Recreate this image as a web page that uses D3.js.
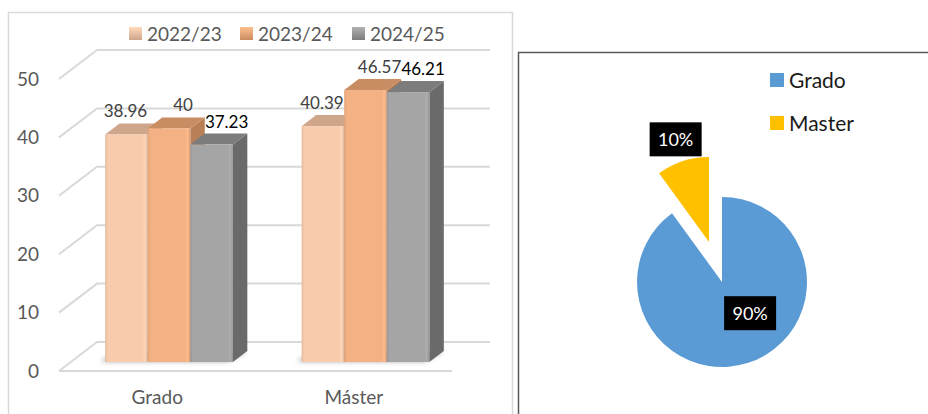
<!DOCTYPE html>
<html>
<head>
<meta charset="utf-8">
<script src="https://cdn.jsdelivr.net/npm/d3@7"></script>
<style>
  html, body { margin: 0; padding: 0; background: #fff; }
  svg { display: block; font-family: Lato, "Noto Sans", sans-serif; }
</style>
</head>
<body>
<svg id="chart" width="928" height="414"></svg>
<script>
// Average scores by study level and academic year
const categories = ["Grado", "Máster"];
const seriesNames = ["2022/23", "2023/24", "2024/25"];
const values2022 = [38.96, 40.39];
const values2023 = [40, 46.57];
const values2024 = [37.23, 46.21];
const yTicks = [0, 10, 20, 30, 40, 50];

// Share of students by level
const pieLabels = ["Grado", "Master"];
const pieValues = [90, 10];

const seriesValues = [values2022, values2023, values2024];

const svg = d3.select("#chart");
const defs = svg.append("defs");

// ---------- left panel: 3D clustered columns ----------
const frontColors = ["#F8CBAD", "#F4B183", "#A5A5A5"];
const topColors   = ["#CFA68B", "#C98D63", "#7C7C7C"];
const sideColors  = ["#C49C82", "#B98057", "#6A6A6A"];
const labelColors = ["#404040", "#404040", "#000000"];
const labelNudge  = [-1, 14, 15];

// oblique depth vector (full depth of the plot box)
const depthDX = 38, depthDY = -29;
const d0 = 0.31, d1 = 0.69;   // bar depth range inside the box

const x0 = d3.scaleBand().domain(categories).range([59, 452])
  .paddingInner(0.35).paddingOuter(0.175);
const x1 = d3.scaleBand().domain(seriesNames).range([0, x0.bandwidth()]);
const y = d3.scaleLinear().domain([0, 50]).range([371, 79]);

const proj = (x, v, d) => [x + d * depthDX, y(v) + d * depthDY];

// panel frame
svg.append("rect").attr("x", 8.5).attr("y", 12.5).attr("width", 504).attr("height", 420)
  .attr("fill", "none").attr("stroke", "#D9D9D9").attr("stroke-width", 1.5);

// walls / gridlines
const grid = svg.append("g").attr("stroke", "#D9D9D9").attr("stroke-width", 2).attr("fill", "none");
const xLeft = x0.range()[0], xRight = x0.range()[1];
yTicks.forEach(t => {
  const a = proj(xLeft, t, 0), b = proj(xLeft, t, 1), c = proj(xRight, t, 1);
  grid.append("path").attr("d", d3.line()([a, b, c]));
});
// front floor edge
grid.append("path").attr("d", d3.line()([proj(xLeft, 0, 0), proj(xRight, 0, 0)]));

// axis tick labels
svg.append("g").selectAll("text").data(yTicks).join("text")
  .attr("x", 39).attr("y", d => y(d)).attr("dy", "0.35em")
  .attr("text-anchor", "end").attr("font-size", 19).attr("fill", "#595959")
  .text(d => d);

// category labels
svg.append("g").selectAll("text").data(categories).join("text")
  .attr("x", d => x0(d) + x0.bandwidth() / 2).attr("y", 404)
  .attr("text-anchor", "middle").attr("font-size", 19).attr("fill", "#595959")
  .text(d => d);

// soft shadow under each group
const blur = defs.append("filter").attr("id", "soft").attr("x", "-20%").attr("y", "-50%")
  .attr("width", "140%").attr("height", "200%");
blur.append("feGaussianBlur").attr("stdDeviation", 2.5);

// front-face shading
seriesNames.forEach((s, i) => {
  const g = defs.append("linearGradient").attr("id", "front" + i)
    .attr("x1", 0).attr("x2", 1).attr("y1", 0).attr("y2", 0);
  const c = d3.color(frontColors[i]);
  g.append("stop").attr("offset", 0).attr("stop-color", c.darker(0.25));
  g.append("stop").attr("offset", 0.06).attr("stop-color", c);
  g.append("stop").attr("offset", 0.88).attr("stop-color", c);
  g.append("stop").attr("offset", 0.94).attr("stop-color", c.brighter(0.15));
  g.append("stop").attr("offset", 1).attr("stop-color", c.darker(0.35));
});

const bars = svg.append("g");
categories.forEach((cat, ci) => {
  const gx = x0(cat);
  const gEnd = gx + x0.bandwidth();
  // floor shadow
  const sh = [proj(gx - 6, 0, d0 + 0.02), proj(gEnd - 6, 0, d0 + 0.02), proj(gEnd, 0, d1), proj(gx, 0, d1)];
  bars.append("path").attr("d", d3.line()(sh) + "Z").attr("fill", "#000").attr("opacity", 0.35)
    .attr("filter", "url(#soft)");

  seriesNames.forEach((s, si) => {
    const v = seriesValues[si][ci];
    const bx = gx + x1(s), bw = x1.bandwidth();
    const ftl = proj(bx, v, d0), ftr = proj(bx + bw, v, d0);
    const fbl = proj(bx, 0, d0), fbr = proj(bx + bw, 0, d0);
    const btl = proj(bx, v, d1), btr = proj(bx + bw, v, d1), bbr = proj(bx + bw, 0, d1);
    // side face
    bars.append("path").attr("d", d3.line()([ftr, btr, bbr, fbr]) + "Z")
      .attr("fill", sideColors[si]);
    // top face
    bars.append("path").attr("d", d3.line()([ftl, ftr, btr, btl]) + "Z")
      .attr("fill", topColors[si]);
    // front face
    bars.append("rect").attr("x", ftl[0]).attr("y", ftl[1])
      .attr("width", bw).attr("height", fbl[1] - ftl[1])
      .attr("fill", `url(#front${si})`);
    // value label
    bars.append("text")
      .attr("x", ftl[0] + bw / 2 + labelNudge[si]).attr("y", ftl[1] - 17)
      .attr("text-anchor", "middle").attr("font-size", 17).attr("fill", labelColors[si])
      .text(v);
  });
});

// legend
const legendX = [129, 240, 352];
seriesNames.forEach((s, i) => {
  const g = defs.append("linearGradient").attr("id", "leg" + i)
    .attr("x1", 0).attr("x2", 0).attr("y1", 0).attr("y2", 1);
  g.append("stop").attr("offset", 0).attr("stop-color", d3.color(frontColors[i]).brighter(0.2));
  g.append("stop").attr("offset", 1).attr("stop-color", topColors[i]);
  const lg = svg.append("g").attr("transform", `translate(${legendX[i]},27)`);
  lg.append("rect").attr("width", 13).attr("height", 13).attr("fill", `url(#leg${i})`);
  lg.append("text").attr("x", 18).attr("y", 13.5).attr("font-size", 19).attr("fill", "#595959").text(s);
});

// ---------- right panel: exploded pie ----------
svg.append("rect").attr("x", 518.5).attr("y", 52.5).attr("width", 420).attr("height", 400)
  .attr("fill", "none").attr("stroke", "#595959").attr("stroke-width", 1.5);

const pieColors = d3.scaleOrdinal().domain(pieLabels).range(["#5B9BD5", "#FFC000"]);
const pieCenter = [722, 282];
const radius = 85;
const explode = [0, 42];
const labelPolar = [{ da: -24 * Math.PI / 180, r: 42 }, { da: 0, r: 150 }];

const pie = d3.pie().sort(null).value(d => d);
const arcs = pie(pieValues);
const arc = d3.arc().innerRadius(0).outerRadius(radius);
const total = d3.sum(pieValues);

const pg = svg.append("g").attr("transform", `translate(${pieCenter})`);
arcs.forEach((a, i) => {
  const mid = (a.startAngle + a.endAngle) / 2;
  const [ox, oy] = d3.pointRadial(mid, explode[i]);
  pg.append("path").attr("d", arc(a)).attr("transform", `translate(${ox},${oy})`)
    .attr("fill", pieColors(pieLabels[i]));
});
arcs.forEach((a, i) => {
  const mid = (a.startAngle + a.endAngle) / 2;
  const [lx, ly] = d3.pointRadial(mid + labelPolar[i].da, labelPolar[i].r);
  const lab = pg.append("g").attr("transform", `translate(${lx},${ly})`);
  lab.append("rect").attr("x", -26).attr("y", -17).attr("width", 52).attr("height", 34).attr("fill", "#000");
  lab.append("text").attr("text-anchor", "middle").attr("dy", "0.36em")
    .attr("font-size", 18).attr("fill", "#fff")
    .text(Math.round(a.data / total * 100) + "%");
});

// pie legend
pieLabels.forEach((l, i) => {
  const lg = svg.append("g").attr("transform", `translate(770,${73 + i * 43})`);
  lg.append("rect").attr("width", 14).attr("height", 14).attr("fill", pieColors(l));
  lg.append("text").attr("x", 19).attr("y", 14.5).attr("font-size", 21).attr("fill", "#1a1a1a").text(l);
});
</script>
</body>
</html>
